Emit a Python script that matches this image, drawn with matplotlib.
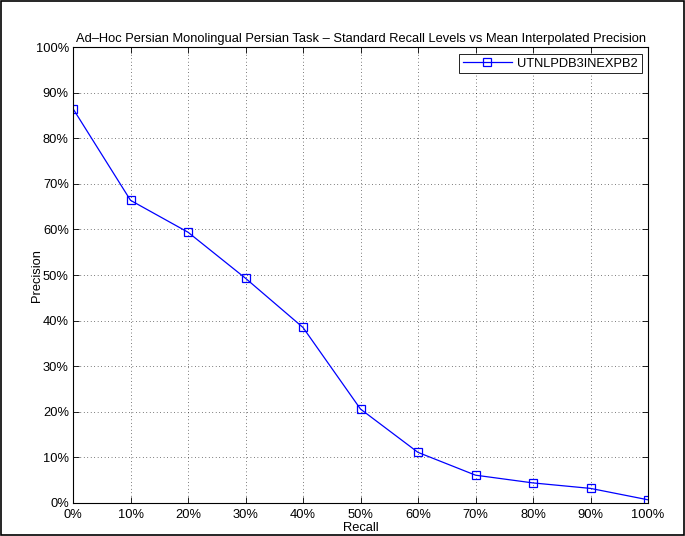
import matplotlib
matplotlib.use("Agg")
import matplotlib.pyplot as plt
import matplotlib.patches as mpatches
from matplotlib.ticker import FuncFormatter

plt.rcParams['font.family'] = ['Liberation Sans', 'DejaVu Sans']

recall = [0, 10, 20, 30, 40, 50, 60, 70, 80, 90, 100]
precision = [86.5, 66.4, 59.4, 49.3, 38.5, 20.6, 11.1, 6.1, 4.4, 3.2, 0.7]
run_name = "UTNLPDB3INEXPB2"
title = "Ad\u2013Hoc Persian Monolingual Persian Task \u2013 Standard Recall Levels vs Mean Interpolated Precision"

fs = 9.3
fig = plt.figure(figsize=(6.85, 5.36), dpi=100)
ax = fig.add_axes([0.1066, 0.0616, 0.8394, 0.8504])

ax.plot(recall, precision, color="blue", linewidth=0.9, marker="s", markersize=6,
        markerfacecolor="none", markeredgecolor="blue", markeredgewidth=0.9, label=run_name)

ax.set_xlim(0, 100)
ax.set_ylim(0, 100)
ax.set_xticks(range(0, 101, 10))
ax.set_yticks(range(0, 101, 10))
pct = FuncFormatter(lambda v, p: "%d%%" % v)
ax.xaxis.set_major_formatter(pct)
ax.yaxis.set_major_formatter(pct)
ax.tick_params(direction="in", top=True, right=True, labelsize=fs, length=4, width=0.6)
ax.tick_params(axis="x", pad=4)
ax.tick_params(axis="y", pad=3)
ax.grid(True, color="black", linestyle=(0, (1, 4)), linewidth=0.5)
for s in ax.spines.values():
    s.set_linewidth(0.8)

ax.set_title(title, fontsize=fs, pad=4)
ax.set_xlabel("Recall", fontsize=fs, labelpad=1)
ax.set_ylabel("Precision", fontsize=fs)
ax.yaxis.set_label_coords(-0.053, 0.5)

leg = ax.legend(loc="upper right", fontsize=fs, fancybox=False, framealpha=1,
                edgecolor="black", borderaxespad=0.5, handlelength=3.8,
                borderpad=0.3, handletextpad=0.4)
leg.get_frame().set_linewidth(0.6)

fig.patches.append(mpatches.Rectangle((0.002, 0.002), 0.996, 0.996, transform=fig.transFigure,
                                      fill=False, edgecolor="black", linewidth=1.2))

fig.savefig("out.png", dpi=100)
